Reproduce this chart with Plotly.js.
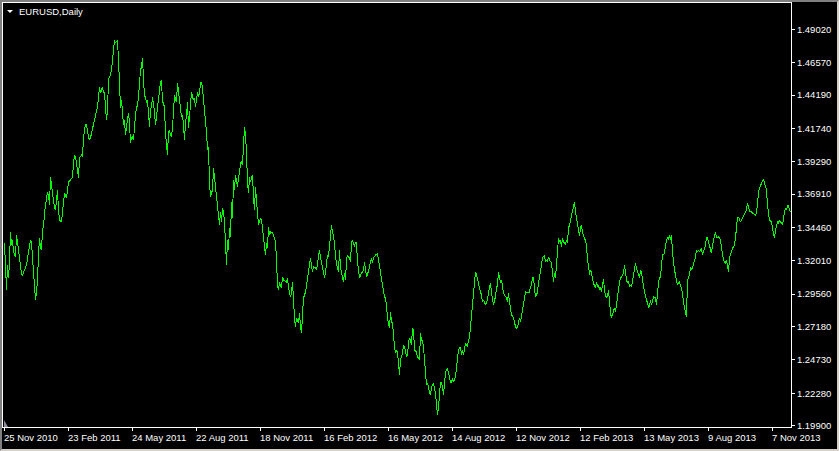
<!DOCTYPE html>
<html><head><meta charset="utf-8">
<script src="https://cdn.plot.ly/plotly-3.0.1.min.js"></script>
<style>
html,body{margin:0;padding:0;background:#000;}
#chart{width:839px;height:451px;position:absolute;left:0;top:0;}
#chart .scatterlayer path.js-line{shape-rendering:crispEdges;}
#frame{position:absolute;left:0;top:0;width:839px;height:451px;box-sizing:border-box;border-top:2px solid #808080;border-left:2px solid #808080;border-right:2px solid #d4d0c8;border-bottom:2px solid #d4d0c8;pointer-events:none;}
</style>
</head><body><div id="chart"></div><div id="frame"></div>
<script>
const symbolTitle = 'EURUSD,Daily';
const dateTickBars = [0,64,128,192,256,320,384,448,512,576,640,704,768];
const dateLabels = ['25 Nov 2010','23 Feb 2011','24 May 2011','22 Aug 2011','18 Nov 2011','16 Feb 2012','16 May 2012','14 Aug 2012','12 Nov 2012','12 Feb 2013','13 May 2013','9 Aug 2013','7 Nov 2013'];
const priceTicks = [1.49020,1.46570,1.44190,1.41740,1.39290,1.36910,1.34460,1.32010,1.29560,1.27180,1.24730,1.22280,1.19900];

const barIndex = [
0,1,2,3,4,5,6,7,8,9,
10,11,12,13,14,15,16,17,18,20,
22,24,26,27,28,29,30,31,32,33,
34,35,36,37,38,39,40,41,42,43,
44,45,46,47,48,50,51,52,53,54,
55,57,58,59,60,62,63,64,66,68,
69,70,71,72,73,74,75,77,78,79,
80,81,82,83,84,85,86,87,89,90,
91,92,93,94,95,96,97,98,99,100,
101,102,103,104,105,106,107,108,109,110,
111,113,114,115,116,117,118,119,120,121,
122,123,124,125,126,127,128,129,130,131,
132,133,134,135,136,137,138,139,140,141,
142,143,144,145,146,147,148,149,150,151,
153,154,155,156,157,158,159,160,161,162,
163,164,165,166,167,168,169,170,171,172,
173,174,175,176,177,178,179,180,181,182,
183,184,185,186,187,188,189,190,191,192,
193,194,195,196,197,198,199,200,201,202,
203,204,205,206,207,208,209,210,211,212,
213,214,215,216,217,218,219,220,221,222,
223,224,225,226,227,228,229,230,231,232,
233,234,235,236,237,238,239,240,241,242,
243,244,245,246,247,248,249,250,251,252,
253,254,255,256,257,258,259,260,261,262,
263,264,265,266,268,269,271,272,273,274,
275,277,278,279,282,283,284,286,287,288,
289,290,291,292,294,295,296,297,298,299,
301,302,303,304,305,306,307,308,309,311,
312,313,314,315,316,317,318,319,320,321,
322,323,324,325,326,327,328,329,330,331,
332,333,334,335,336,337,338,339,340,341,
342,343,344,345,346,347,348,349,350,351,
352,353,354,355,356,357,358,359,360,361,
362,364,366,367,368,369,371,373,374,375,
376,377,378,379,380,381,382,383,384,385,
386,387,388,389,390,391,392,393,394,395,
396,397,398,399,400,401,402,403,404,405,
406,407,408,409,410,412,413,414,415,416,
417,418,419,420,421,422,423,424,425,426,
427,429,430,431,432,433,434,435,436,437,
438,439,440,441,442,443,444,445,446,447,
448,449,450,451,452,453,454,455,456,457,
458,459,460,461,462,463,464,465,466,467,
468,469,470,471,472,473,474,475,476,477,
478,479,480,481,482,483,484,485,486,487,
488,489,490,491,492,493,494,495,496,497,
498,499,500,501,502,503,504,505,506,507,
508,509,510,511,512,513,514,515,516,517,
518,519,520,521,523,525,526,527,528,529,
530,531,532,533,534,535,536,537,538,539,
540,541,542,543,544,545,546,547,548,549,
550,551,552,553,554,555,556,557,558,559,
560,561,562,563,564,565,566,567,568,569,
570,571,572,573,574,575,576,577,578,579,
580,581,582,583,584,585,586,587,588,589,
590,591,592,593,594,595,596,597,598,599,
600,601,602,603,604,605,606,607,608,609,
610,611,612,613,614,615,616,617,618,619,
620,621,622,623,624,625,626,627,628,629,
630,631,632,633,634,635,636,637,638,639,
640,641,642,643,644,645,646,647,648,649,
650,651,652,653,654,655,656,657,658,659,
660,661,662,663,664,665,666,667,668,669,
670,671,672,673,674,675,676,677,678,679,
680,681,682,683,684,685,686,687,688,689,
690,691,692,693,694,695,696,697,698,699,
700,701,702,703,704,705,706,707,708,709,
710,711,712,713,714,715,716,717,718,719,
720,721,722,723,724,725,726,727,728,729,
730,731,732,733,734,735,736,737,738,739,
740,741,742,743,744,745,746,747,748,749,
750,751,752,753,754,755,756,757,758,759,
760,761,762,763,764,765,766,767,768,769,
770,771,772,773,774,775,776,777,778,779,
780,781,782,783,784,785,786
];

const closePrice = [
1.3332,1.3134,1.2987,1.3170,1.3075,1.3192,1.3413,1.3317,1.3354,1.3266,
1.3237,1.3230,1.3391,1.3303,1.3281,1.3222,1.3156,1.3105,1.3097,1.3134,
1.3170,1.3266,1.3354,1.3332,1.3230,1.3075,1.3023,1.2913,1.2965,1.3060,
1.3244,1.3369,1.3303,1.3281,1.3428,1.3450,1.3552,1.3626,1.3662,1.3706,
1.3684,1.3611,1.3817,1.3758,1.3699,1.3589,1.3574,1.3684,1.3721,1.3574,
1.3501,1.3486,1.3574,1.3662,1.3699,1.3662,1.3706,1.3780,1.3795,1.3817,
1.3920,1.3978,1.3964,1.3927,1.3868,1.3809,1.3956,1.3978,1.3964,1.4103,
1.4185,1.4207,1.4199,1.4140,1.4111,1.4089,1.4103,1.4140,1.4199,1.4221,
1.4272,1.4294,1.4332,1.4405,1.4479,1.4434,1.4456,1.4479,1.4441,1.4434,
1.4332,1.4236,1.4309,1.4530,1.4552,1.4566,1.4603,1.4699,1.4786,1.4823,
1.4801,1.4823,1.4676,1.4419,1.4324,1.4383,1.4309,1.4199,1.4236,1.4125,
1.4185,1.4236,1.4287,1.4214,1.4067,1.4103,1.4111,1.4089,1.4221,1.4272,
1.4324,1.4346,1.4405,1.4552,1.4603,1.4625,1.4691,1.4544,1.4405,1.4405,
1.4361,1.4383,1.4272,1.4185,1.4309,1.4332,1.4405,1.4361,1.4294,1.4199,
1.4324,1.4405,1.4471,1.4515,1.4530,1.4368,1.4361,1.4324,1.4140,1.4074,
1.3978,1.4147,1.4162,1.4125,1.4111,1.4177,1.4309,1.4419,1.4383,1.4368,
1.4508,1.4434,1.4346,1.4324,1.4258,1.4272,1.4199,1.4089,1.4221,1.4258,
1.4368,1.4177,1.4258,1.4346,1.4441,1.4405,1.4383,1.4397,1.4332,1.4383,
1.4441,1.4405,1.4434,1.4508,1.4515,1.4471,1.4397,1.4309,1.4221,1.4147,
1.4015,1.4037,1.3773,1.3670,1.3699,1.3721,1.3883,1.3817,1.3743,1.3699,
1.3633,1.3523,1.3464,1.3560,1.3486,1.3589,1.3560,1.3486,1.3281,1.3170,
1.3354,1.3281,1.3442,1.3376,1.3633,1.3516,1.3795,1.3721,1.3831,1.3773,
1.3743,1.3817,1.3846,1.3920,1.3927,1.3905,1.4052,1.4185,1.4125,1.4000,
1.3773,1.3699,1.3817,1.3780,1.3809,1.3831,1.3670,1.3574,1.3743,1.3670,
1.3552,1.3464,1.3486,1.3516,1.3501,1.3428,1.3354,1.3295,1.3244,1.3332,
1.3295,1.3450,1.3391,1.3413,1.3406,1.3391,1.3339,1.3207,1.3023,1.2987,
1.3045,1.3001,1.3082,1.3060,1.3045,1.3075,1.3001,1.2935,1.2965,1.3045,
1.2876,1.2781,1.2715,1.2781,1.2744,1.2818,1.2715,1.2671,1.2803,1.2928,
1.2972,1.3009,1.3075,1.3112,1.3170,1.3222,1.3156,1.3119,1.3156,1.3148,
1.3134,1.3192,1.3266,1.3281,1.3230,1.3192,1.3156,1.3097,1.3075,1.3119,
1.3192,1.3244,1.3230,1.3303,1.3413,1.3464,1.3406,1.3391,1.3317,1.3222,
1.3170,1.3156,1.3119,1.3281,1.3148,1.3119,1.3075,1.3045,1.3112,1.3060,
1.3207,1.3244,1.3230,1.3222,1.3192,1.3332,1.3354,1.3332,1.3303,1.3339,
1.3332,1.3192,1.3119,1.3075,1.3097,1.3112,1.3119,1.3134,1.3192,1.3134,
1.3082,1.3126,1.3185,1.3222,1.3185,1.3222,1.3244,1.3251,1.3207,1.3156,
1.3119,1.3075,1.3023,1.2965,1.2935,1.2928,1.2876,1.2781,1.2729,1.2707,
1.2825,1.2751,1.2744,1.2641,1.2568,1.2524,1.2546,1.2531,1.2436,1.2362,
1.2472,1.2494,1.2524,1.2582,1.2568,1.2546,1.2494,1.2509,1.2597,1.2634,
1.2619,1.2582,1.2707,1.2693,1.2546,1.2531,1.2494,1.2487,1.2472,1.2671,
1.2619,1.2619,1.2568,1.2450,1.2347,1.2288,1.2303,1.2252,1.2237,1.2215,
1.2274,1.2303,1.2274,1.2230,1.2142,1.2068,1.2127,1.2230,1.2310,1.2303,
1.2274,1.2215,1.2310,1.2384,1.2399,1.2406,1.2384,1.2325,1.2310,1.2303,
1.2340,1.2310,1.2325,1.2347,1.2413,1.2494,1.2546,1.2560,1.2568,1.2509,
1.2546,1.2509,1.2568,1.2597,1.2582,1.2568,1.2619,1.2634,1.2715,1.2803,
1.2891,1.2950,1.3082,1.3119,1.3097,1.3060,1.3045,1.3001,1.2972,1.2950,
1.2898,1.2913,1.2898,1.2876,1.2898,1.2913,1.2965,1.3023,1.3038,1.2965,
1.2913,1.2876,1.2913,1.2935,1.3001,1.3023,1.3119,1.3082,1.3038,1.3060,
1.3009,1.2965,1.2950,1.2935,1.2928,1.2898,1.2965,1.2898,1.2825,1.2803,
1.2803,1.2781,1.2751,1.2715,1.2707,1.2715,1.2766,1.2781,1.2751,1.2803,
1.2818,1.2898,1.2935,1.2972,1.2965,1.2972,1.3009,1.3023,1.3082,1.3075,
1.3001,1.2935,1.2950,1.2972,1.3038,1.3075,1.3119,1.3170,1.3222,1.3230,
1.3244,1.3192,1.3207,1.3192,1.3230,1.3207,1.3192,1.3185,1.3119,1.3045,
1.3112,1.3075,1.3170,1.3295,1.3369,1.3339,1.3354,1.3303,1.3369,1.3339,
1.3332,1.3317,1.3354,1.3332,1.3442,1.3464,1.3501,1.3538,1.3560,1.3596,
1.3633,1.3560,1.3516,1.3450,1.3413,1.3383,1.3442,1.3464,1.3406,1.3376,
1.3369,1.3347,1.3317,1.3207,1.3170,1.3097,1.3134,1.3112,1.3060,1.3031,
1.3023,1.3001,1.3045,1.3009,1.3023,1.2987,1.3009,1.2972,1.3023,1.3068,
1.2987,1.2943,1.2935,1.2943,1.2987,1.2876,1.2818,1.2781,1.2818,1.2832,
1.2854,1.2825,1.2876,1.2950,1.2987,1.3045,1.3075,1.3082,1.3097,1.3112,
1.3170,1.3097,1.3060,1.3038,1.3053,1.3009,1.3023,1.3009,1.3060,1.3119,
1.3170,1.3185,1.3148,1.3126,1.3097,1.3075,1.3134,1.3119,1.3060,1.3001,
1.2972,1.2943,1.2913,1.2884,1.2862,1.2869,1.2913,1.2876,1.2913,1.2935,
1.2928,1.2928,1.2876,1.3001,1.3038,1.3075,1.3082,1.3170,1.3244,1.3244,
1.3259,1.3317,1.3354,1.3376,1.3354,1.3391,1.3354,1.3391,1.3259,1.3170,
1.3134,1.3097,1.3045,1.3023,1.3038,1.3045,1.3023,1.3001,1.2965,1.2891,
1.2854,1.2803,1.2788,1.3060,1.3082,1.3097,1.3156,1.3134,1.3148,1.3170,
1.3207,1.3230,1.3281,1.3266,1.3281,1.3266,1.3281,1.3295,1.3244,1.3266,
1.3281,1.3317,1.3369,1.3376,1.3332,1.3317,1.3281,1.3259,1.3317,1.3354,
1.3369,1.3413,1.3369,1.3376,1.3376,1.3369,1.3354,1.3295,1.3230,1.3207,
1.3192,1.3185,1.3207,1.3170,1.3119,1.3222,1.3244,1.3281,1.3295,1.3303,
1.3317,1.3369,1.3442,1.3523,1.3523,1.3501,1.3486,1.3501,1.3516,1.3530,
1.3538,1.3552,1.3574,1.3626,1.3596,1.3567,1.3560,1.3560,1.3552,1.3545,
1.3538,1.3538,1.3552,1.3648,1.3699,1.3736,1.3758,1.3780,1.3787,1.3802,
1.3780,1.3751,1.3721,1.3611,1.3552,1.3494,1.3494,1.3486,1.3442,1.3406,
1.3369,1.3428,1.3450,1.3486,1.3479,1.3501,1.3486,1.3479,1.3464,1.3538,
1.3560,1.3582,1.3574,1.3604,1.3611,1.3574,1.3560
];

const FONT = 'Liberation Sans, Arial, sans-serif';

const annotations = dateLabels.map((t, k) => ({
  text: t, x: dateTickBars[k], xref: 'x', xanchor: 'left', xshift: -3,
  y: 0, yref: 'paper', yanchor: 'top', yshift: -3, showarrow: false,
  font: {family: FONT, size: 9.5, color: '#ffffff'}
}));
annotations.push({
  text: symbolTitle, xref: 'paper', x: 0, xanchor: 'left', xshift: 14,
  yref: 'paper', y: 1, yanchor: 'top', yshift: -1, showarrow: false,
  font: {family: FONT, size: 9.5, color: '#ffffff'}
});

const layout = {
  width: 839, height: 451,
  margin: {l: 3, r: 48, t: 3, b: 24, pad: 0},
  paper_bgcolor: '#000000', plot_bgcolor: '#000000',
  showlegend: false,
  xaxis: {
    range: [-1.5, 786.5], showgrid: false, zeroline: false,
    showline: true, mirror: true, linecolor: '#ffffff', linewidth: 1,
    ticks: 'outside', ticklen: 3, tickcolor: '#ffffff', tickwidth: 1,
    tickmode: 'array', tickvals: dateTickBars, showticklabels: false, fixedrange: true
  },
  yaxis: {
    side: 'right', range: [1.19801, 1.50953], showgrid: false, zeroline: false,
    showline: true, mirror: true, linecolor: '#ffffff', linewidth: 1,
    ticks: 'outside', ticklen: 3, tickcolor: '#ffffff', tickwidth: 1,
    tickmode: 'array', tickvals: priceTicks, ticktext: priceTicks.map(v => v.toFixed(5)),
    tickfont: {family: FONT, size: 9.5, color: '#ffffff'}, fixedrange: true
  },
  annotations: annotations,
  shapes: [
    {type: 'path', xref: 'paper', yref: 'paper', xsizemode: 'pixel', ysizemode: 'pixel',
     xanchor: 0, yanchor: 1, path: 'M4,-7 L10,-7 L7,-10 Z', fillcolor: '#ffffff', line: {width: 0}},
    {type: 'path', xref: 'paper', yref: 'paper', xsizemode: 'pixel', ysizemode: 'pixel',
     xanchor: 0, yanchor: 0, path: 'M1,0 L1,7 L5,0 Z', fillcolor: '#8c8c9c', line: {width: 0}}
  ]
};

Plotly.newPlot('chart', [{
  type: 'scatter', mode: 'lines', x: barIndex, y: closePrice,
  line: {color: '#00ff00', width: 1}, hoverinfo: 'skip'
}], layout, {staticPlot: true, displayModeBar: false});
</script></body></html>
